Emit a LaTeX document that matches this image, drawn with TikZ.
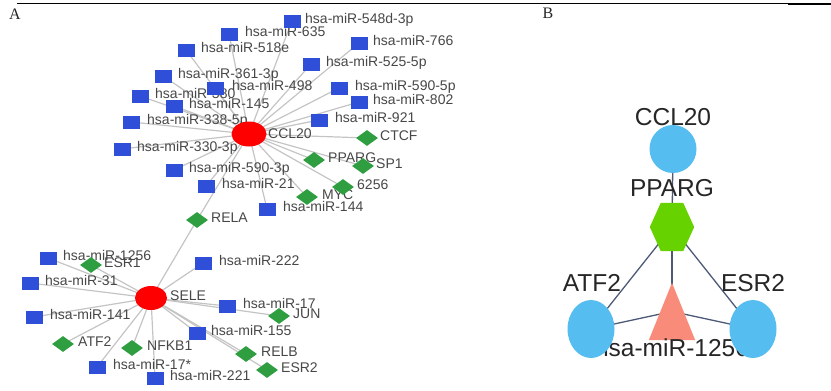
\documentclass[tikz,border=0pt]{standalone}
\usepackage{fontspec}
\setmainfont{Liberation Serif}
\newfontfamily\lblfont{Liberation Sans}
\usetikzlibrary{shapes.geometric,backgrounds}
\definecolor{mirblue}{HTML}{2F4FD8}
\definecolor{tfgreen}{HTML}{2E9E40}
\definecolor{edgegray}{HTML}{C4C4C4}
\definecolor{lblgray}{HTML}{474747}
\definecolor{bblue}{HTML}{55BDF0}
\definecolor{bgreen}{HTML}{66D200}
\definecolor{bsalmon}{HTML}{F98B7B}
\definecolor{bedgecol}{HTML}{4C5A78}
\pgfdeclarelayer{lbllayer}
\pgfsetlayers{background,lbllayer,main}
\tikzset{
 mirsq/.style={rectangle, fill=mirblue, minimum width=17pt, minimum height=13pt, inner sep=0pt},
 tfdia/.style={diamond, fill=tfgreen, minimum width=22pt, minimum height=16pt, inner sep=0pt},
 hub/.style={ellipse, fill=red, inner sep=0pt},
 lbl/.style={anchor=base west, inner sep=0pt, text=lblgray, font=\lblfont\fontsize{14}{14}\selectfont},
 aedge/.style={draw=edgegray, line width=1.2pt},
 bline/.style={draw=bedgecol, line width=1.3pt},
 bcirc/.style={ellipse, fill=bblue, inner sep=0pt, minimum width=47pt},
 blbl/.style={inner sep=0pt, text=black!85, font=\lblfont\fontsize{24.5}{26}\selectfont},
 panel/.style={font=\fontsize{16}{16}\selectfont, text=black!85, inner sep=0pt},
 anchorbox/.style={rectangle, inner sep=0pt}
}
\newcommand\mirnode[5]{\node[mirsq] (#1) at (#2,#3) {};
 \begin{pgfonlayer}{lbllayer}\node[lbl] (#1l) at (#4,#3+2.5) {#5};\end{pgfonlayer}}
\newcommand\tfnode[5]{\node[tfdia] (#1) at (#2,#3) {};
 \begin{pgfonlayer}{lbllayer}\node[lbl] (#1l) at (#4,#3+2) {#5};\end{pgfonlayer}}
\begin{document}
\begin{tikzpicture}[x=1pt,y=-1pt]
\useasboundingbox (0,0) rectangle (831,391);
% top rule
\draw[line width=0.8pt] (17,3) -- (788,3);
\draw[line width=1.8pt] (788,4.3) -- (831,4.3);
\node[panel] (pA) at (15,14) {A};
\node[panel] (pB) at (548,13) {B};

% ===== Panel A =====
\node[hub, minimum width=35pt, minimum height=25pt] (ccl) at (249,134) {};
\begin{pgfonlayer}{lbllayer}\node[lbl] (ccll) at (268,138) {CCL20};\end{pgfonlayer}
\node[hub, minimum width=32pt, minimum height=24pt] (sele) at (151,298) {};
\begin{pgfonlayer}{lbllayer}\node[lbl] (selel) at (170,300) {SELE};\end{pgfonlayer}

\mirnode{m548}{292}{21}{305}{hsa-miR-548d-3p}
\mirnode{m635}{229}{34}{245}{hsa-miR-635}
\mirnode{m518}{186}{50}{201}{hsa-miR-518e}
\mirnode{m766}{359}{43}{373}{hsa-miR-766}
\mirnode{m525}{311}{64}{326}{hsa-miR-525-5p}
\mirnode{m361}{163}{76}{178}{hsa-miR-361-3p}
\mirnode{m498}{215}{88}{232}{hsa-miR-498}
\mirnode{m5905}{339}{88}{355}{hsa-miR-590-5p}
\mirnode{m380}{140}{96}{155}{hsa-miR-380}
\mirnode{m145}{174}{106}{189}{hsa-miR-145}
\mirnode{m802}{359}{102}{373}{hsa-miR-802}
\mirnode{m338}{131}{122}{147}{hsa-miR-338-5p}
\mirnode{m921}{319}{120}{335}{hsa-miR-921}
\mirnode{m330}{122}{149}{137}{hsa-miR-330-3p}
\mirnode{m5903}{174}{170}{189}{hsa-miR-590-3p}
\mirnode{m21}{206}{186}{222}{hsa-miR-21}
\mirnode{m144}{267}{209}{283}{hsa-miR-144}
\mirnode{m222}{203}{263}{219}{hsa-miR-222}
\mirnode{m1256}{48}{258}{63}{hsa-miR-1256}
\mirnode{m31}{30}{283}{45}{hsa-miR-31}
\mirnode{m141}{34}{317}{50}{hsa-miR-141}
\mirnode{m17}{227}{306}{243}{hsa-miR-17}
\mirnode{m155}{197}{333}{211}{hsa-miR-155}
\mirnode{m17s}{97}{367}{113}{hsa-miR-17*}
\mirnode{m221}{155}{378}{170}{hsa-miR-221}

\tfnode{ctcf}{367}{138}{380}{CTCF}
\tfnode{pparg}{314}{160}{328}{PPARG}
\tfnode{sp1}{363}{166}{376}{SP1}
\tfnode{g6256}{343}{187}{357}{6256}
\tfnode{myc}{307}{197}{322}{MYC}
\tfnode{rela}{197}{220}{211}{RELA}
\tfnode{esr1}{91}{265}{104}{ESR1}
\tfnode{jun}{279}{316}{293}{JUN}
\tfnode{atf2}{63}{344}{78}{ATF2}
\tfnode{nfkb1}{132}{348}{147}{NFKB1}
\tfnode{relb}{246}{354}{261}{RELB}
\tfnode{esr2}{267}{370}{281}{ESR2}

\begin{pgfonlayer}{background}
\foreach \n in {m548,m635,m518,m766,m525,m361,m498,m5905,m380,m145,m802,m338,m921,m330,m5903,m21,m144,ctcf,pparg,sp1,g6256,myc,rela}
  \draw[aedge] (ccl.center) -- (\n.center);
\foreach \n in {rela,m222,m1256,esr1,m31,m141,atf2,nfkb1,m17s,m221,m155,m17,jun,relb,esr2}
  \draw[aedge] (sele.center) -- (\n.center);
\end{pgfonlayer}

% ===== Panel B =====
\node[bcirc, minimum height=48pt] (bccl) at (673,149) {};
\node[anchorbox, minimum width=44pt, minimum height=48pt] (bpp) at (672,227) {};
\node[anchorbox, minimum width=46pt, minimum height=57pt] (btri) at (672,311.5) {};
\node[bcirc, minimum height=58pt] (batf) at (591,329) {};
\node[bcirc, minimum height=58pt] (besr) at (753,329) {};

\begin{pgfonlayer}{background}
\draw[bline] (bccl.center) -- (bpp.center);
\draw[bline] (bpp.center) -- (batf.center);
\draw[bline] (bpp.center) -- (besr.center);
\draw[bline] (bpp.center) -- (btri.center);
\draw[bline] (batf.center) -- (btri.center);
\draw[bline] (besr.center) -- (btri.center);
\end{pgfonlayer}

\begin{pgfonlayer}{lbllayer}
\fill[bsalmon] (btri.north) -- (btri.south east) -- (btri.south west) -- cycle;
\node[blbl] (btril) at (672,348) {hsa-miR-1256};
\fill[bgreen] (bpp.west) -- ([xshift=11pt]bpp.north west) -- ([xshift=-11pt]bpp.north east)
  -- (bpp.east) -- ([xshift=-11pt]bpp.south east) -- ([xshift=11pt]bpp.south west) -- cycle;
\end{pgfonlayer}

\node[blbl] (bccll) at (673,117) {CCL20};
\node[blbl] (bppl) at (672,188) {PPARG};
\node[blbl] (batfl) at (592,283) {ATF2};
\node[blbl] (besrl) at (753,283) {ESR2};
\end{tikzpicture}
\end{document}
